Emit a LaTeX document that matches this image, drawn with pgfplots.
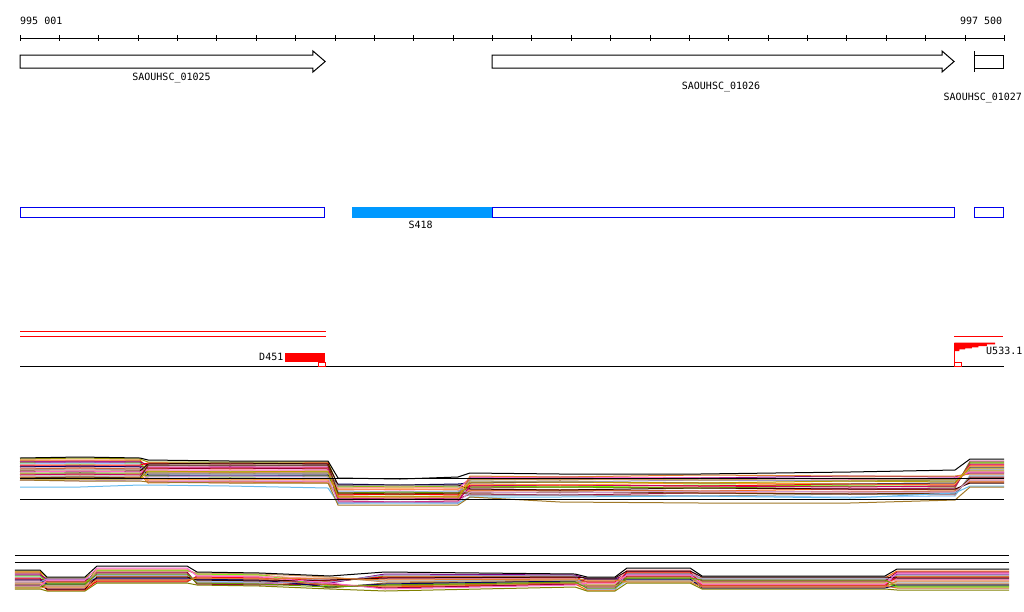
\documentclass[border=0pt]{standalone}
\usepackage{pgfplots}
\usepackage{pgfplotstable}
\pgfplotsset{compat=1.18}
\usepackage{fontspec}
\setmainfont{DejaVu Sans Mono}

\definecolor{L0}{HTML}{999900}
\definecolor{L1}{HTML}{FF6600}
\definecolor{L2}{HTML}{996633}
\definecolor{L3}{HTML}{CC3399}
\definecolor{L4}{HTML}{800080}
\definecolor{L5}{HTML}{66FF00}
\definecolor{L6}{HTML}{99CCFF}
\definecolor{L7}{HTML}{FF0000}
\definecolor{L8}{HTML}{990033}
\definecolor{L9}{HTML}{000066}
\definecolor{L10}{HTML}{FF9999}
\definecolor{L11}{HTML}{9999CC}
\definecolor{L12}{HTML}{CC6633}
\definecolor{L13}{HTML}{CC9966}
\definecolor{L14}{HTML}{330000}
\definecolor{L15}{HTML}{FF66CC}
\definecolor{L16}{HTML}{669900}
\definecolor{L17}{HTML}{E08030}
\definecolor{L18}{HTML}{CC0066}
\definecolor{L19}{HTML}{999999}
\definecolor{L20}{HTML}{FF9933}
\definecolor{L21}{HTML}{663300}
\definecolor{L22}{HTML}{B8A000}
\definecolor{L23}{HTML}{CC99CC}
\definecolor{ltblue}{HTML}{66BBEE}
\definecolor{brn}{HTML}{A07828}
\definecolor{boxblue}{HTML}{0000EE}
\definecolor{fillblue}{HTML}{0099FF}
\definecolor{olv}{HTML}{808000}

% track 4 profiles: one row per line, columns = positions
\pgfplotstableread{
name r1 r2 r3 r4 r5 r6 r7 r8 r9 r10 r11 r12 r13 r14 r15 r16
x 1 153.4 305.8 326.1 534.3 783.2 808.6 966.1 1113.4 1143.8 1372.4 1728.0 2108.9 2375.6 2413.7 2500
L0 459 458 459 462 462 462 486 487 486 480 479 480 481 480 470 470
L1 460 460 460 468 469 468 490 489 490 490 490 491 489 490 482 482
L2 461 462 461 474 473 474 494 494 494 479 480 478 479 479 472 472
L3 462 461 462 481 481 481 498 499 498 488 487 488 489 488 461 461
L4 462 462 462 465 466 465 503 502 503 477 477 478 476 477 473 473
L5 463 464 463 472 471 472 487 487 487 486 487 485 486 486 463 463
L6 464 463 464 478 478 478 491 492 491 496 495 496 497 496 475 475
L7 465 465 465 463 464 463 495 494 495 485 485 486 484 485 465 465
L8 466 467 466 469 468 469 499 499 499 494 495 493 494 494 477 477
L9 467 466 467 475 475 475 484 485 484 483 482 483 484 483 467 467
L10 468 468 468 482 483 482 488 487 488 492 492 493 491 492 479 479
L11 469 470 469 466 465 466 492 492 492 481 482 480 481 481 469 469
L12 469 468 469 472 472 472 496 497 496 491 490 491 492 491 481 481
L13 470 470 470 479 480 479 500 499 500 479 479 480 478 479 471 471
L14 471 472 471 464 463 464 485 485 485 489 490 488 489 489 483 483
L15 472 471 472 470 470 470 489 490 489 478 477 478 479 478 472 472
L16 473 473 473 476 477 476 493 492 493 487 487 488 486 487 462 462
L17 474 475 474 483 482 483 497 497 497 476 477 475 476 476 474 474
L18 475 474 475 467 467 467 501 502 501 486 485 486 487 486 464 464
L19 476 476 476 473 474 473 486 485 486 495 495 496 494 495 476 476
L20 477 478 477 480 479 480 489 489 489 484 485 483 484 484 466 466
L21 478 477 478 465 465 465 493 494 493 493 492 493 494 493 478 478
L22 479 479 479 471 472 471 497 496 497 482 482 483 481 482 468 468
L23 480 481 480 477 476 477 502 502 502 492 493 491 492 492 480 480
blu 487 487 485 485 486 488 503 503 503 497 497 496 498 493 486 486
brn 480 481 481 482 483 483 505 505 505 497 502 503 503 500 487 487
blk 458 457 458 460 461 461 478 479 477 473 474 474 472 470 459 459
}\rawA
\pgfplotstabletranspose[colnames from=name,input colnames to=rid]{\tabA}{\rawA}

% track 5 profiles
\pgfplotstableread{
name r1 r2 r3 r4 r5 r6 r7 r8 r9 r10 r11 r12 r13 r14 r15 r16 r17 r18 r19
x -11.7 51.8 69.6 166.1 196.6 425.1 450.5 610.5 788.3 928.0 1410.5 1441.0 1512.1 1542.6 1702.6 1733.0 2197.8 2228.3 2512.7
M0 571 571 578 578 570 570 574 575 582 576 576 585 585 573 573 582 582 576 576
M1 572 572 582 582 576 576 581 582 585 587 584 590 590 576 576 578 578 571 571
M2 573 573 585 585 582 582 576 577 588 583 581 582 582 580 580 585 585 584 584
M3 574 574 589 589 573 573 583 584 580 578 578 587 587 571 571 580 580 579 579
M4 575 575 579 579 579 579 579 580 583 574 575 579 579 574 574 587 587 574 574
M5 576 576 583 583 570 570 574 575 586 585 583 584 584 578 578 583 583 587 587
M6 577 577 586 586 575 575 581 582 578 581 580 589 589 581 581 578 578 582 582
M7 578 578 590 590 581 581 577 578 581 577 577 582 582 572 572 585 585 577 577
M8 579 579 581 581 572 572 584 585 584 588 584 586 586 576 576 581 581 572 572
M9 580 580 584 584 578 578 579 580 587 584 581 579 579 579 579 588 588 585 585
M10 581 581 588 588 569 569 575 576 579 579 579 584 584 570 570 583 583 580 580
M11 582 582 579 579 575 575 582 583 582 575 576 589 589 574 574 579 579 575 575
M12 583 583 582 582 580 580 578 579 585 586 583 581 581 577 577 586 586 588 588
M13 584 584 586 586 571 571 573 574 577 582 580 586 586 581 581 582 582 583 583
M14 585 585 589 589 577 577 580 581 580 578 577 578 578 571 571 577 577 578 578
M15 586 586 580 580 568 568 576 577 583 589 585 583 583 575 575 584 584 573 573
M16 587 587 584 584 574 574 583 584 587 585 582 588 588 578 578 580 580 586 586
M17 588 588 587 587 580 580 578 579 578 580 579 580 580 582 582 587 587 581 581
mblk 570 570 577 577 566 566 572 573 576 572 574 577 577 568 568 576 576 569 569
molv 589 589 591 591 583 583 585 586 589 591 587 591 591 583 583 589 589 590 590
}\rawB
\pgfplotstabletranspose[colnames from=name,input colnames to=rid]{\tabB}{\rawB}

\begin{document}
\begin{tikzpicture}[every node/.style={font=\fontsize{10}{12}\selectfont, inner sep=0pt}]
\useasboundingbox (0,0) rectangle (1024pt,611pt);
\clip (0,0) rectangle (1024pt,611pt);
\begin{axis}[at={(0pt,0pt)}, anchor=south west, scale only axis,
  width=1024pt, height=611pt,
  xmin=-49.79, xmax=2550.79, ymin=0, ymax=611, y dir=reverse,
  hide axis, clip=false,
  every axis plot/.append style={line width=1pt}]

% ---- ruler ----
\addplot[black] coordinates {(1,38) (2500,38)};
\addplot[black, only marks, mark=|, mark size=3pt] coordinates {
(1,38) (101,38) (201,38) (301,38) (401,38) (501,38) (601,38) (701,38) (801,38)
(901,38) (1001,38) (1101,38) (1201,38) (1301,38) (1401,38) (1501,38) (1601,38)
(1701,38) (1801,38) (1901,38) (2001,38) (2101,38) (2201,38) (2301,38) (2401,38) (2500,38)};
\node[anchor=base west] at (axis cs:1,24) {995 001};
\node[anchor=base east] at (axis cs:2496,24) {997 500};

% ---- genes ----
\addplot[black, fill=white] coordinates {(1,55) (745,55) (745,51) (776,61.5) (745,72) (745,68) (1,68)} -- cycle;
\addplot[black, fill=white] coordinates {(1199.7,55) (2342.5,55) (2342.5,51) (2373.1,61.5) (2342.5,72) (2342.5,68) (1199.7,68)} -- cycle;
\addplot[black, fill=white] coordinates {(2423.8,55) (2498,55) (2498,68) (2423.8,68)} -- cycle;
\addplot[black] coordinates {(2423.8,51) (2423.8,72)};
\node[anchor=base] at (axis cs:385.8,80) {SAOUHSC\_01025};
\node[anchor=base] at (axis cs:1781.3,89.3) {SAOUHSC\_01026};
\node[anchor=base east] at (axis cs:2546,100.7) {SAOUHSC\_01027};

% ---- track 2 ----
\addplot[boxblue, fill=white] coordinates {(1,207.8) (774.5,207.8) (774.5,217) (1,217)} -- cycle;
\addplot[draw=none, fill=fillblue] coordinates {(844.2,207.3) (1199.7,207.3) (1199.7,217.5) (844.2,217.5)} -- cycle;
\addplot[boxblue] coordinates {(1199.7,207.8) (2373.1,207.8) (2373.1,217) (1199.7,217)} -- cycle;
\addplot[boxblue] coordinates {(2423.8,207.8) (2499,207.8) (2499,217) (2423.8,217)} -- cycle;
\node[anchor=base] at (axis cs:1018.6,228.3) {S418};

% ---- track 3 ----
\addplot[red] coordinates {(1,331.5) (777,331.5)};
\addplot[red] coordinates {(1,336) (777,336)};
\addplot[draw=none, fill=red] coordinates {(674,352.7) (775.6,352.7) (775.6,361.7) (674,361.7)} -- cycle;
\addplot[black] coordinates {(1,366.3) (2500,366.3)};
\addplot[red, fill=white] coordinates {(757.8,362.5) (776.3,362.5) (776.3,366) (757.8,366)} -- cycle;
\node[anchor=base east] at (axis cs:670.2,360.7) {D451};
\addplot[red] coordinates {(2373.1,336) (2497.6,336)};
\addplot[draw=none, fill=red] coordinates {(2373.9,342.7) (2477.2,342.7) (2477.2,344.3) (2456.1,344.3) (2456.1,346) (2434.8,346) (2434.8,347.3) (2418,347.3) (2418,348.3) (2401,348.3) (2401,349.3) (2386.6,349.3) (2386.6,351) (2373.9,351)} -- cycle;
\addplot[red] coordinates {(2373.9,343) (2373.9,363)};
\addplot[red, fill=white] coordinates {(2373.1,362.5) (2390.9,362.5) (2390.9,366) (2373.1,366)} -- cycle;
\node[anchor=base east] at (axis cs:2547,354) {U533.1};

% ---- track 4 ----
\pgfplotsinvokeforeach{0,...,23}{
  \addplot[color=L#1] table[x=x, y=L#1] {\tabA};
}
\addplot[color=ltblue] table[x=x, y=blu] {\tabA};
\addplot[color=brn] table[x=x, y=brn] {\tabA};
\addplot[color=black] table[x=x, y=blk] {\tabA};
\addplot[black] coordinates {(1,478) (2500,478)};
\addplot[black] coordinates {(1,499.3) (2500,499.3)};

% ---- track 5 ----
\addplot[black] coordinates {(-11.7,555) (2512.7,555)};
\addplot[black] coordinates {(-11.7,562) (2512.7,562)};
\pgfplotsinvokeforeach{0,...,17}{
  \addplot[color=L#1] table[x=x, y=M#1] {\tabB};
}
\addplot[color=black] table[x=x, y=mblk] {\tabB};
\addplot[color=olv] table[x=x, y=molv] {\tabB};

\end{axis}
\end{tikzpicture}
\end{document}
